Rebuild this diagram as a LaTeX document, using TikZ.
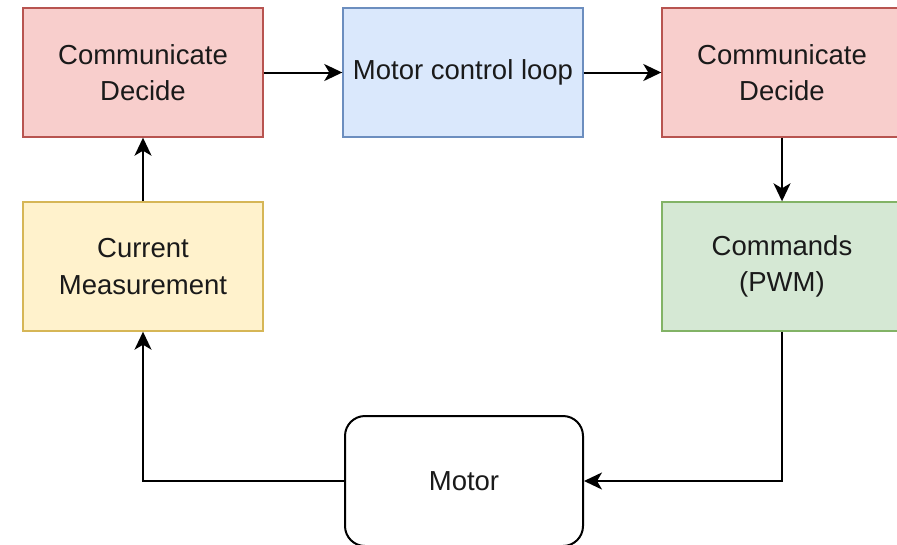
\documentclass[tikz,border=0pt]{standalone}
\usepackage{fontspec}
\setmainfont{Liberation Sans}
\usetikzlibrary{arrows.meta}
\definecolor{redfill}{HTML}{F8CECC}
\definecolor{redline}{HTML}{B85450}
\definecolor{bluefill}{HTML}{DAE8FC}
\definecolor{blueline}{HTML}{6C8EBF}
\definecolor{yelfill}{HTML}{FFF2CC}
\definecolor{yelline}{HTML}{D6B656}
\definecolor{grnfill}{HTML}{D5E8D4}
\definecolor{grnline}{HTML}{82B366}
\definecolor{txt}{HTML}{1A1A1A}
\tikzset{
  block/.style={rectangle, minimum width=240pt, minimum height=129pt, inner sep=0pt,
    line width=1.4pt, align=center, text=txt,
    font=\fontsize{27.5}{36.5}\selectfont},
  redbox/.style={block, fill=redfill, draw=redline},
  bluebox/.style={block, fill=bluefill, draw=blueline},
  yelbox/.style={block, fill=yelfill, draw=yelline},
  grnbox/.style={block, fill=grnfill, draw=grnline},
  motorbox/.style={block, minimum width=238pt, minimum height=130pt, fill=white,
    draw=black, line width=2pt, rounded corners=20pt},
  link/.style={draw=black, line width=2pt,
    -{Stealth[length=18pt, width=17pt, inset=5pt]}}
}
\begin{document}
\begin{tikzpicture}[x=1pt, y=-1pt]
  \useasboundingbox (0,0) rectangle (897,544);
  \clip (0,0) rectangle (897,544);
  \fill[white] (0,0) rectangle (897,544);

  % control chain along the top
  \node[redbox]  (cdl) at (143,72.5)  {Communicate\\Decide};
  \node[bluebox] (mcl) at (463,72.5)  {Motor control loop};
  \node[redbox]  (cdr) at (782,72.5)  {Communicate\\Decide};

  % side blocks
  \node[yelbox]  (cur) at (143,266.5) {Current\\Measurement};
  \node[grnbox]  (cmd) at (782,266.5) {Commands\\(PWM)};

  % plant
  \node[motorbox] (mot) at (464,481) {Motor};

  % signal flow
  \draw[link] (cdl.east) -- (mcl.west);
  \draw[link] (mcl.east) -- (cdr.west);
  \draw[link] (cdr.south) -- (cmd.north);
  \draw[link] (cmd.south) |- (mot.east);
  \draw[link] (mot.west) -| (cur.south);
  \draw[link] (cur.north) -- (cdl.south);
\end{tikzpicture}
\end{document}
